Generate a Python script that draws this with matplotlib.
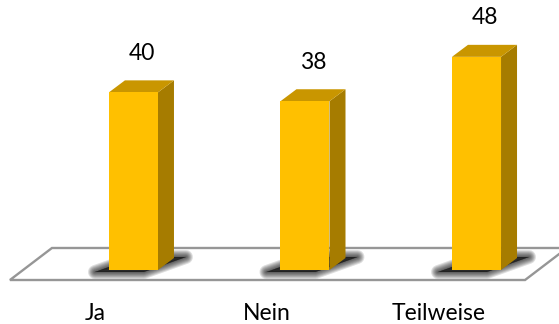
import matplotlib
matplotlib.use('Agg')
import matplotlib.pyplot as plt
from matplotlib.patches import Polygon

categories = ['Ja', 'Nein', 'Teilweise']
values = [40, 38, 48]

front_col = '#FFC000'
side_col = '#A67C00'
top_col = '#C99600'

plt.rcParams['font.family'] = ['Lato', 'DejaVu Sans']

fig = plt.figure(figsize=(5.59, 3.24), dpi=100)
ax = fig.add_axes([0, 0, 1, 1])
ax.set_xlim(-0.778, 2.481)
ax.set_ylim(-12.16, 60.8)
ax.axis('off')

# pixels per data unit (x: per category, y: per value)
sx = 171.5
sy = 4.44
def off(dx, dy):
    return dx / sx, dy / sy

bar_w = 0.286
ddx, ddy = off(16, 12)     # depth of the bars

# floor
fx0, fy0 = -0.72, off(0, -10)[1]
fx1 = 2.283
fdx, fdy = off(42, 32)
floor = Polygon([(fx0, fy0), (fx1, fy0), (fx1 + fdx, fy0 + fdy), (fx0 + fdx, fy0 + fdy)],
                closed=True, fc='white', ec='#969696', lw=1.7, zorder=1)
ax.add_patch(floor)

x = list(range(len(categories)))
bars = ax.bar(x, values, width=bar_w, color=front_col, zorder=4)

for i, v in zip(x, values):
    l = i - bar_w / 2
    r = i + bar_w / 2
    # blurred shadow on the floor
    a1, b1 = off(-14, -2)
    a2, b2 = off(12, 1)
    shp = [(l + a1, b1), (r + a1, b1), (r + ddx + a2, ddy + b2), (l + ddx + a2, ddy + b2)]
    for k in range(7):
        ax.add_patch(Polygon(shp, closed=True, fc='black', ec='black', lw=1 + k * 1.5,
                             alpha=0.13, joinstyle='round', zorder=2))
    # side face
    ax.add_patch(Polygon([(r, 0), (r + ddx, ddy), (r + ddx, v + ddy), (r, v)],
                         closed=True, fc=side_col, ec='none', zorder=3))
    # top face
    ax.add_patch(Polygon([(l, v), (r, v), (r + ddx, v + ddy), (l + ddx, v + ddy)],
                         closed=True, fc=top_col, ec='none', zorder=3))
    # value label
    ax.annotate(str(v), xy=(i + ddx / 2, v), xytext=(0, 28), textcoords='offset points',
                ha='center', va='center', fontsize=16.5, color='black')
    # category label
    ax.annotate(categories[i], xy=(i, fy0), xytext=(-27.4, -23.8), textcoords='offset points',
                ha='center', va='center', fontsize=16.5, color='black')

fig.savefig('out.png', dpi=100, facecolor='white')
